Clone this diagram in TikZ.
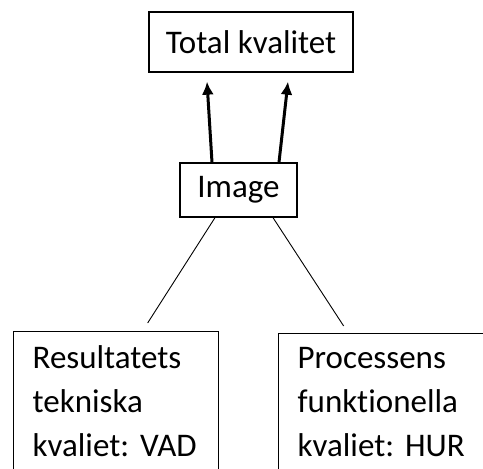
\documentclass[tikz,border=0pt]{standalone}
\usepackage{fontspec}
\setmainfont{Carlito}[Ligatures=NoCommon]
\usetikzlibrary{arrows.meta}
\frenchspacing

\begin{document}
\begin{tikzpicture}[x=1pt,y=-1pt,
	box/.style={draw,line width=1.3pt,font=\fontsize{33}{44}\selectfont,inner sep=0pt},
	lowbox/.style={box,anchor=north west,align=left,inner ysep=14pt},
	up/.style={line width=3pt,-{Latex[length=13pt,width=12pt]}},
	leg/.style={line width=0.9pt}]
	\useasboundingbox (0,0) rectangle (483,469);
	\node[box,minimum width=204pt,minimum height=60pt] (t) at (251,42) {Total kvalitet};
	\node[box,minimum width=117pt,minimum height=54pt] (i) at (238.5,190) {Image};
	\node[lowbox,inner xsep=19pt,text width=167pt] (r) at (13,331) {Resultatets\\tekniska\\\mbox{kvaliet: VAD}\rule[-30pt]{0pt}{0pt}};
	\node[lowbox,inner xsep=19pt,text width=200pt] (p) at (278,333) {Processens\\funktionella\\\mbox{kvaliet: HUR}\rule[-30pt]{0pt}{0pt}};
	
	\draw[up] ([xshift=-26.5pt]i.north) -- ([xshift=-44pt,yshift=-9pt]t.south);
	\draw[up] ([xshift=40.5pt]i.north) -- ([xshift=37pt,yshift=-9pt]t.south);
	\draw[leg] ([xshift=-23.5pt]i.south) -- ([xshift=31.5pt,yshift=8pt]r.north);
	\draw[leg] ([xshift=34.5pt]i.south) -- ([xshift=-54pt,yshift=7pt]p.north);
\end{tikzpicture}
\end{document}
